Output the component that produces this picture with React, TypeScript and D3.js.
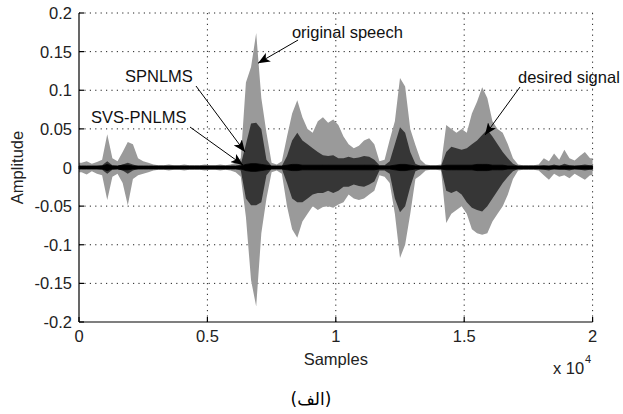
import React from "react";
import * as d3 from "d3";

const W = 623;
const H = 414;
const BIN = 200; // samples per envelope bin

const xTicks = [0, 5000, 10000, 15000, 20000];
const xTickLabels = ["0", "0.5", "1", "1.5", "2"];
const yTicks = [-0.2, -0.15, -0.1, -0.05, 0, 0.05, 0.1, 0.15, 0.2];
const yTickLabels = ["-0.2", "-0.15", "-0.1", "-0.05", "0", "0.05", "0.1", "0.15", "0.2"];

// original speech envelope (max / min per 200-sample bin)
const origMax = [
  0.006, 0.008, 0.005, 0.007, 0.01, 0.043, 0.012, 0.008, 0.02, 0.033,
  0.03, 0.012, 0.008, 0.006, 0.004, 0.003, 0.003, 0.004, 0.003, 0.003,
  0.004, 0.003, 0.003, 0.003, 0.004, 0.003, 0.003, 0.004, 0.003, 0.004,
  0.006, 0.012, 0.11, 0.13, 0.174, 0.09, 0.045, 0.006, 0.004, 0.008,
  0.04, 0.07, 0.087, 0.065, 0.05, 0.045, 0.06, 0.065, 0.058, 0.062,
  0.055, 0.04, 0.03, 0.025, 0.028, 0.035, 0.038, 0.03, 0.008, 0.01,
  0.036, 0.06, 0.116, 0.105, 0.05, 0.029, 0.01, 0.004, 0.003, 0.003,
  0.004, 0.055, 0.05, 0.045, 0.05, 0.045, 0.07, 0.085, 0.104, 0.09,
  0.06, 0.05, 0.045, 0.03, 0.012, 0.004, 0.003, 0.003, 0.003, 0.004,
  0.012, 0.008, 0.018, 0.01, 0.023, 0.012, 0.009, 0.015, 0.02, 0.012,
];
const origMin = [
  -0.006, -0.009, -0.005, -0.008, -0.01, -0.042, -0.012, -0.008, -0.02, -0.049,
  -0.015, -0.01, -0.008, -0.006, -0.004, -0.003, -0.003, -0.004, -0.003, -0.003,
  -0.004, -0.003, -0.003, -0.003, -0.004, -0.003, -0.003, -0.004, -0.003, -0.004,
  -0.006, -0.012, -0.064, -0.146, -0.18, -0.085, -0.04, -0.006, -0.004, -0.008,
  -0.05, -0.08, -0.091, -0.07, -0.06, -0.05, -0.055, -0.051, -0.05, -0.052,
  -0.048, -0.045, -0.035, -0.04, -0.042, -0.04, -0.035, -0.03, -0.01, -0.012,
  -0.02, -0.06, -0.117, -0.1, -0.06, -0.015, -0.01, -0.004, -0.003, -0.003,
  -0.004, -0.072, -0.06, -0.055, -0.05, -0.06, -0.08, -0.085, -0.087, -0.085,
  -0.07, -0.06, -0.05, -0.035, -0.015, -0.004, -0.003, -0.003, -0.003, -0.004,
  -0.01, -0.016, -0.008, -0.012, -0.01, -0.014, -0.008, -0.012, -0.016, -0.01,
];
// desired signal envelope
const desMax = [
  0.002, 0.002, 0.002, 0.002, 0.003, 0.008, 0.003, 0.002, 0.004, 0.006,
  0.004, 0.002, 0.002, 0.002, 0.002, 0.002, 0.002, 0.002, 0.002, 0.002,
  0.002, 0.002, 0.002, 0.002, 0.002, 0.002, 0.002, 0.002, 0.002, 0.002,
  0.002, 0.004, 0.03, 0.057, 0.058, 0.05, 0.01, 0.002, 0.002, 0.002,
  0.015, 0.035, 0.045, 0.035, 0.03, 0.025, 0.02, 0.016, 0.015, 0.016,
  0.012, 0.012, 0.014, 0.012, 0.013, 0.015, 0.014, 0.01, 0.003, 0.003,
  0.008, 0.03, 0.052, 0.045, 0.02, 0.005, 0.002, 0.002, 0.002, 0.002,
  0.002, 0.02, 0.027, 0.025, 0.023, 0.025, 0.03, 0.035, 0.042, 0.049,
  0.04, 0.03, 0.02, 0.012, 0.005, 0.002, 0.002, 0.002, 0.002, 0.002,
  0.003, 0.002, 0.004, 0.002, 0.005, 0.003, 0.002, 0.003, 0.004, 0.003,
];
const desMin = [
  -0.002, -0.002, -0.002, -0.002, -0.003, -0.008, -0.003, -0.002, -0.004, -0.008,
  -0.004, -0.002, -0.002, -0.002, -0.002, -0.002, -0.002, -0.002, -0.002, -0.002,
  -0.002, -0.002, -0.002, -0.002, -0.002, -0.002, -0.002, -0.002, -0.002, -0.002,
  -0.002, -0.004, -0.04, -0.049, -0.049, -0.045, -0.01, -0.002, -0.002, -0.002,
  -0.02, -0.04, -0.045, -0.045, -0.04, -0.035, -0.033, -0.033, -0.03, -0.033,
  -0.03, -0.025, -0.025, -0.022, -0.024, -0.025, -0.022, -0.018, -0.004, -0.004,
  -0.008, -0.04, -0.058, -0.05, -0.025, -0.005, -0.002, -0.002, -0.002, -0.002,
  -0.002, -0.03, -0.033, -0.03, -0.035, -0.045, -0.052, -0.055, -0.057, -0.05,
  -0.04, -0.03, -0.02, -0.012, -0.005, -0.002, -0.002, -0.002, -0.002, -0.002,
  -0.003, -0.004, -0.002, -0.003, -0.003, -0.004, -0.002, -0.003, -0.004, -0.003,
];
// SPNLMS / SVS-PNLMS output envelope (small, near zero)
const filtAmp = [
  0.002, 0.002, 0.002, 0.002, 0.002, 0.004, 0.002, 0.002, 0.003, 0.003,
  0.002, 0.002, 0.002, 0.002, 0.002, 0.002, 0.002, 0.002, 0.002, 0.002,
  0.002, 0.002, 0.002, 0.002, 0.002, 0.002, 0.002, 0.002, 0.002, 0.002,
  0.002, 0.002, 0.004, 0.005, 0.005, 0.004, 0.003, 0.002, 0.002, 0.002,
  0.003, 0.004, 0.004, 0.003, 0.003, 0.003, 0.003, 0.003, 0.003, 0.003,
  0.003, 0.003, 0.003, 0.003, 0.003, 0.003, 0.003, 0.003, 0.002, 0.002,
  0.002, 0.003, 0.004, 0.004, 0.003, 0.002, 0.002, 0.002, 0.002, 0.002,
  0.002, 0.003, 0.003, 0.003, 0.003, 0.003, 0.003, 0.004, 0.004, 0.004,
  0.003, 0.003, 0.003, 0.002, 0.002, 0.002, 0.002, 0.002, 0.002, 0.002,
  0.002, 0.002, 0.002, 0.002, 0.002, 0.002, 0.002, 0.002, 0.002, 0.002,
];

// annotations in data units: label, text anchor, line start, arrow tip
const annLabels = ["original speech", "SPNLMS", "SVS-PNLMS", "desired signal"];
const annText = [[8290, 0.1676], [1790, 0.1107], [470, 0.0576], [17095, 0.1094]];
const annFrom = [[8530, 0.165], [4556, 0.1055], [4322, 0.0524], [17173, 0.1042]];
const annTip = [[6970, 0.135], [6464, 0.0201], [6386, 0.0032], [15810, 0.042]];

const FONT = "'Liberation Sans', Arial, sans-serif";
const FS = 16.5;

export default function App() {
  const x = d3.scaleLinear().domain([0, 20000]).range([79, 592.6]);
  const y = d3.scaleLinear().domain([-0.2, 0.2]).range([322, 13]);

  const mk = (hi: number[], lo: number[], curve: d3.CurveFactory) => {
    const pts = hi.map((v, i) => ({ s: (i + 0.5) * BIN, hi: v, lo: lo[i] }));
    pts.unshift({ s: 0, hi: hi[0], lo: lo[0] });
    pts.push({ s: hi.length * BIN, hi: hi[hi.length - 1], lo: lo[lo.length - 1] });
    return d3
      .area<{ s: number; hi: number; lo: number }>()
      .x((d) => x(d.s))
      .y0((d) => y(d.lo))
      .y1((d) => y(d.hi))
      .curve(curve)(pts) as string;
  };
  const origPath = mk(origMax, origMin, d3.curveLinear);
  const desPath = mk(desMax, desMin, d3.curveLinear);
  const filtPath = mk(filtAmp, filtAmp.map((v) => -v), d3.curveLinear);

  const x0 = x(0), x1 = x(20000), yb = y(-0.2), yt = y(0.2);

  return (
    <svg width={W} height={H} style={{ position: "absolute", left: 0, top: 0, background: "#fff" }}>
      <defs>
        <marker id="ah" viewBox="0 0 12 10" refX="12" refY="5" markerWidth="12" markerHeight="10" markerUnits="userSpaceOnUse" orient="auto">
          <path d="M0,0 L12,5 L0,10 L3,5 Z" fill="#000" />
        </marker>
      </defs>
      <rect x={0} y={0} width={W} height={H} fill="#fff" />
      {/* grid */}
      <g stroke="#222" strokeWidth={1} strokeDasharray="1.2,4.2">
        {xTicks.slice(1).map((t) => (
          <line key={"gx" + t} x1={x(t)} x2={x(t)} y1={yb} y2={yt} />
        ))}
        {yTicks.slice(1).map((t) => (
          <line key={"gy" + t} x1={x0} x2={x1} y1={y(t)} y2={y(t)} />
        ))}
      </g>
      {/* signals */}
      <path d={origPath} fill="#9a9a9a" />
      <path d={desPath} fill="#363636" />
      <path d={filtPath} fill="#000" stroke="#000" strokeWidth={0.8} />
      {/* axes */}
      <g stroke="#000" strokeWidth={1.2} fill="none">
        <line x1={x0} x2={x0} y1={yb} y2={yt} />
        <line x1={x0} x2={x1} y1={yb} y2={yb} />
        {xTicks.map((t) => (
          <line key={"tx" + t} x1={x(t)} x2={x(t)} y1={yb} y2={yb - 5} />
        ))}
        {yTicks.map((t) => (
          <line key={"ty" + t} x1={x0} x2={x0 + 5} y1={y(t)} y2={y(t)} />
        ))}
      </g>
      <g fontFamily={FONT} fontSize={FS} fill="#222">
        {yTicks.map((t, i) => (
          <text key={"ly" + t} x={x0 - 7} y={y(t) + 6} textAnchor="end">
            {yTickLabels[i]}
          </text>
        ))}
        {xTicks.map((t, i) => (
          <text key={"lx" + t} x={x(t)} y={yb + 20} textAnchor="middle">
            {xTickLabels[i]}
          </text>
        ))}
        <text x={x(10000)} y={365} textAnchor="middle">Samples</text>
        <text x={553} y={374}>x 10</text>
        <text x={585} y={363} fontSize={11}>4</text>
        <text transform={`translate(23,${y(0)}) rotate(-90)`} textAnchor="middle">Amplitude</text>
      </g>
      {/* annotations */}
      <g fontFamily={FONT} fontSize={FS} fill="#111">
        {annLabels.map((l, i) => (
          <g key={l}>
            <line
              x1={x(annFrom[i][0])}
              y1={y(annFrom[i][1])}
              x2={x(annTip[i][0])}
              y2={y(annTip[i][1])}
              stroke="#000"
              strokeWidth={1}
              markerEnd="url(#ah)"
            />
            <text x={x(annText[i][0])} y={y(annText[i][1])}>{l}</text>
          </g>
        ))}
      </g>
      <text x={311} y={405} textAnchor="middle" fontFamily="'DejaVu Sans', sans-serif" fontSize={17} fill="#000">
        (الف)
      </text>
    </svg>
  );
}
